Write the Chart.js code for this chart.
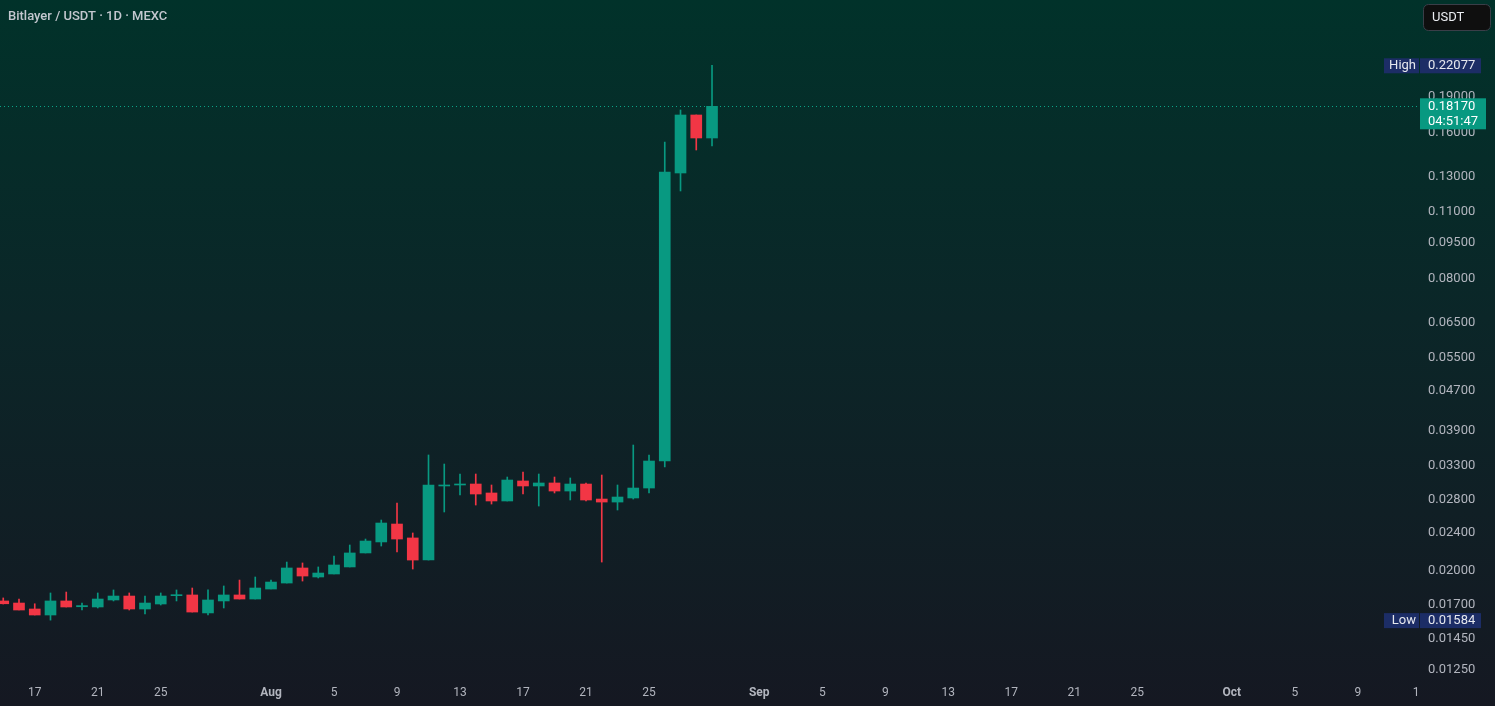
<!DOCTYPE html>
<html>
<head>
<meta charset="utf-8">
<script src="https://cdn.jsdelivr.net/npm/chart.js@4.4.1/dist/chart.umd.min.js"></script>
<style>
  html, body { margin: 0; padding: 0; background: #131722; overflow: hidden; }
  #wrap { position: relative; width: 1495px; height: 706px; }
</style>
</head>
<body>
<div id="wrap"><canvas id="chart"></canvas></div>
<script>
// daily candles, Bitlayer / USDT on MEXC
const dates = [
  'Jul 15','Jul 16','Jul 17','Jul 18','Jul 19','Jul 20','Jul 21','Jul 22','Jul 23','Jul 24',
  'Jul 25','Jul 26','Jul 27','Jul 28','Jul 29','Jul 30','Jul 31','Aug 1','Aug 2','Aug 3',
  'Aug 4','Aug 5','Aug 6','Aug 7','Aug 8','Aug 9','Aug 10','Aug 11','Aug 12','Aug 13',
  'Aug 14','Aug 15','Aug 16','Aug 17','Aug 18','Aug 19','Aug 20','Aug 21','Aug 22','Aug 23',
  'Aug 24','Aug 25','Aug 26','Aug 27','Aug 28','Aug 29'
];
const opens = [
  0.01735, 0.01718, 0.01670, 0.01623, 0.01735, 0.01688, 0.01686, 0.01743, 0.01776, 0.01670,
  0.01710, 0.01779, 0.01785, 0.01639, 0.01735, 0.01785, 0.01751, 0.01836, 0.01889, 0.02029,
  0.01944, 0.01972, 0.02039, 0.02179, 0.02296, 0.02500, 0.02340, 0.02107, 0.02995, 0.03009,
  0.03023, 0.02897, 0.02789, 0.03067, 0.02995, 0.03038, 0.02924, 0.03023, 0.02815, 0.02775,
  0.02829, 0.02966, 0.03372, 0.13238, 0.17436, 0.15632
];
const highs = [
  0.01760, 0.01751, 0.01712, 0.01802, 0.01810, 0.01718, 0.01802, 0.01828, 0.01802, 0.01776,
  0.01802, 0.01828, 0.01845, 0.01828, 0.01863, 0.01916, 0.01944, 0.01916, 0.02087, 0.02078,
  0.02039, 0.02148, 0.02263, 0.02328, 0.02548, 0.02762, 0.02396, 0.03470, 0.03324, 0.03170,
  0.03170, 0.03009, 0.03125, 0.03200, 0.03170, 0.03125, 0.03111, 0.03038, 0.03155, 0.03009,
  0.03638, 0.03470, 0.15338, 0.17855, 0.17436, 0.22077
];
const lows = [
  0.01710, 0.01662, 0.01623, 0.01584, 0.01686, 0.01662, 0.01678, 0.01735, 0.01662, 0.01631,
  0.01702, 0.01735, 0.01646, 0.01623, 0.01678, 0.01751, 0.01751, 0.01836, 0.01889, 0.01907,
  0.01935, 0.01972, 0.02039, 0.02179, 0.02252, 0.02189, 0.02019, 0.02107, 0.02647, 0.02869,
  0.02736, 0.02749, 0.02789, 0.02883, 0.02723, 0.02897, 0.02802, 0.02789, 0.02087, 0.02672,
  0.02815, 0.02897, 0.03277, 0.12154, 0.14766, 0.15049
];
const closes = [
  0.01712, 0.01662, 0.01623, 0.01735, 0.01686, 0.01697, 0.01751, 0.01776, 0.01670, 0.01718,
  0.01776, 0.01785, 0.01646, 0.01743, 0.01785, 0.01751, 0.01845, 0.01898, 0.02029, 0.01953,
  0.01981, 0.02058, 0.02179, 0.02306, 0.02512, 0.02328, 0.02107, 0.03009, 0.03009, 0.03023,
  0.02883, 0.02789, 0.03081, 0.02995, 0.03038, 0.02924, 0.03023, 0.02802, 0.02775, 0.02842,
  0.02966, 0.03372, 0.13301, 0.17436, 0.15632, 0.18170
];

// axis ticks
const yTicks = [0.0125, 0.0145, 0.017, 0.02, 0.024, 0.028, 0.033, 0.039, 0.047, 0.055,
                0.065, 0.08, 0.095, 0.11, 0.13, 0.16, 0.19];
const xTickPos = [2, 6, 10, 17, 21, 25, 29, 33, 37, 41, 48, 52, 56, 60, 64, 68, 72, 78, 82, 86, 89.7];
const xTickLabels = ['17','21','25','Aug','5','9','13','17','21','25','Sep','5','9','13','17','21','25','Oct','5','9','1'];
const monthLabels = ['Aug', 'Sep', 'Oct'];

const highPrice = 0.22077;
const lowPrice = 0.01584;
const lastPrice = 0.18170;
const countdown = '04:51:47';

const UP = '#089981';
const DOWN = '#F23645';
const FONT = 'Roboto, "Noto Sans", sans-serif';

const colors = closes.map((c, i) => c >= opens[i] ? UP : DOWN);

const tvDecor = {
  id: 'tvDecor',
  beforeDraw(chart) {
    const { ctx, width, height } = chart;
    const g = ctx.createLinearGradient(0, 0, 0, height);
    g.addColorStop(0, '#01322a');
    g.addColorStop(0.45, '#0b2628');
    g.addColorStop(1, '#151822');
    ctx.save();
    ctx.fillStyle = g;
    ctx.fillRect(0, 0, width, height);
    ctx.restore();
  },
  beforeDatasetsDraw(chart) {
    const { ctx, chartArea } = chart;
    const y = Math.round(chart.scales.y.getPixelForValue(lastPrice)) + 0.5;
    ctx.save();
    ctx.strokeStyle = '#0aa386';
    ctx.lineWidth = 1;
    ctx.setLineDash([1, 3]);
    ctx.beginPath();
    ctx.moveTo(chartArea.left, y);
    ctx.lineTo(chartArea.right, y);
    ctx.stroke();
    ctx.restore();
  },
  afterDraw(chart) {
    const { ctx, chartArea } = chart;
    const yScale = chart.scales.y;
    const ax = chartArea.right;
    ctx.save();
    ctx.font = '13px ' + FONT;
    ctx.textBaseline = 'middle';

    // High / Low tags
    function tag(name, value) {
      const y = yScale.getPixelForValue(value);
      ctx.fillStyle = '#1c2d66';
      ctx.fillRect(ax - 36, y - 7, 35, 15);
      ctx.fillRect(ax, y - 7, 61, 15);
      ctx.fillStyle = '#e6e8ee';
      ctx.textAlign = 'right';
      ctx.fillText(name, ax - 4, y + 0.5);
      ctx.textAlign = 'left';
      ctx.fillText(value.toFixed(5), ax + 8, y + 0.5);
    }
    tag('High', highPrice);
    tag('Low', lowPrice);

    // last price box
    const py = yScale.getPixelForValue(lastPrice);
    ctx.fillStyle = UP;
    ctx.fillRect(ax, py - 8, 66, 31);
    ctx.fillStyle = '#ffffff';
    ctx.textAlign = 'left';
    ctx.fillText(lastPrice.toFixed(5), ax + 8, py);
    ctx.fillText(countdown, ax + 8, py + 15);

    // title
    ctx.fillStyle = '#c3c7cf';
    ctx.font = '500 13px ' + FONT;
    ctx.fillText('Bitlayer / USDT · 1D · MEXC', 8, 17);

    // currency button
    ctx.beginPath();
    ctx.roundRect(1423.5, 4.5, 67, 26, 5);
    ctx.fillStyle = '#0f0f0f';
    ctx.fill();
    ctx.strokeStyle = '#3a3e48';
    ctx.lineWidth = 1;
    ctx.stroke();
    ctx.fillStyle = '#eceef2';
    ctx.font = '13px ' + FONT;
    ctx.fillText('USDT', 1432, 18);
    ctx.restore();
  }
};

new Chart(document.getElementById('chart'), {
  type: 'bar',
  data: {
    datasets: [
      {
        label: 'wick',
        data: dates.map((d, i) => ({ x: i, y: [lows[i], highs[i]] })),
        backgroundColor: colors,
        barThickness: 1,
        grouped: false,
        order: 2
      },
      {
        label: 'body',
        data: dates.map((d, i) => ({ x: i, y: [opens[i], closes[i]] })),
        backgroundColor: colors,
        barThickness: 11,
        minBarLength: 1,
        grouped: false,
        order: 1
      }
    ]
  },
  options: {
    responsive: true,
    maintainAspectRatio: false,
    animation: false,
    layout: { padding: 0 },
    plugins: {
      legend: { display: false },
      tooltip: { enabled: false }
    },
    scales: {
      x: {
        type: 'linear',
        offset: false,
        min: -0.206,
        max: 89.95,
        grid: { display: false, drawTicks: false },
        border: { display: false },
        afterBuildTicks(scale) {
          scale.ticks = xTickPos.map(v => ({ value: v }));
        },
        afterFit(scale) {
          scale.height = 28;
          scale.paddingLeft = 0;
          scale.paddingRight = 0;
        },
        ticks: {
          autoSkip: false,
          maxRotation: 0,
          padding: 8,
          color: '#b2b5be',
          font: (c) => ({
            family: FONT,
            size: 12,
            weight: monthLabels.includes(xTickLabels[c.index]) ? 'bold' : 'normal'
          }),
          callback: (v, i) => xTickLabels[i]
        }
      },
      y: {
        type: 'logarithmic',
        position: 'right',
        min: 0.012034,
        max: 0.3010,
        grid: { display: false, drawTicks: false },
        border: { display: false },
        afterBuildTicks(scale) {
          scale.ticks = yTicks.map(v => ({ value: v }));
        },
        afterFit(scale) {
          scale.width = 75;
          scale.paddingTop = 0;
          scale.paddingBottom = 0;
        },
        ticks: {
          autoSkip: false,
          padding: 8,
          color: '#b2b5be',
          font: { family: FONT, size: 13 },
          callback: (v) => Number(v).toFixed(5)
        }
      }
    }
  },
  plugins: [tvDecor]
});
</script>
</body>
</html>
